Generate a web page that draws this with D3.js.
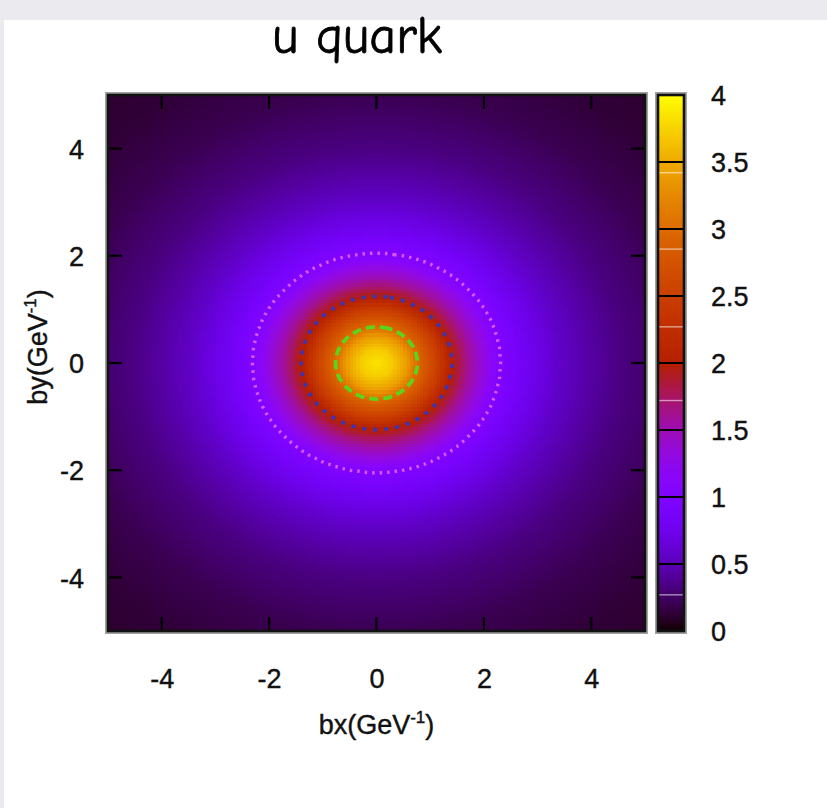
<!DOCTYPE html>
<html>
<head>
<meta charset="utf-8">
<script src="https://cdn.jsdelivr.net/npm/d3@7"></script>
<style>
  html, body { margin: 0; padding: 0; background: #ebebef; }
  svg { display: block; }
</style>
</head>
<body>
<svg id="chart" width="827" height="808"></svg>
<script>
// ---------------- data ----------------
const chartTitle = "u quark";
const xTicks = [-4, -2, 0, 2, 4];
const yTicks = [-4, -2, 0, 2, 4];
const cbTicks = [0, 0.5, 1, 1.5, 2, 2.5, 3, 3.5, 4];
const cbHighlights = [0.27, 1.72, 2.27, 2.85, 3.42];
const axisDomain = [-5, 5];
const colorDomain = [0, 4];
// radial profile of the density (radius measured in by units; bx stretched)
const profileRadius = [0, 0.25, 0.5, 0.67, 1.0, 1.24, 1.5, 2.04, 2.5, 3.0, 3.5, 4.0, 5.0, 6.0, 7.5];
const profileValue  = [3.85, 3.72, 3.4, 3.0, 2.5, 2.0, 1.62, 1.0, 0.78, 0.58, 0.45, 0.34, 0.21, 0.14, 0.09];
const ellipseStretch = [1.13, 1.0];   // bx / by elongation of the iso-lines
const contourLevels = [1, 2, 3];
const contourStyles = [
  { color: "#d957ec", width: 3.4, dash: "2.5,5" },
  { color: "#3a34b8", width: 3.6, dash: "4,7" },
  { color: "#5cd41e", width: 3.8, dash: "9,5" }
];

// ---------------- layout ----------------
const W = 827, H = 808;
const plot = { left: 108, right: 645, top: 95, bottom: 631 };
const cbar = { left: 658, right: 684 };
const font = "'Liberation Sans', Arial, Helvetica, sans-serif";

const svg = d3.select("#chart");

// paper + white panel
svg.append("rect").attr("x", 0).attr("y", 0).attr("width", W).attr("height", H).attr("fill", "#ebebef");
svg.append("rect").attr("x", 4).attr("y", 20).attr("width", W - 4).attr("height", H - 20).attr("fill", "#ffffff");

// scales
const xScale = d3.scaleLinear().domain(axisDomain).range([plot.left, plot.right]);
const yScale = d3.scaleLinear().domain(axisDomain).range([plot.bottom, plot.top]);
const cScale = d3.scaleLinear().domain(colorDomain).range([plot.bottom, plot.top]);
const profile = d3.scaleLinear().domain(profileRadius).range(profileValue).clamp(true);

// gnuplot "traditional pm3d" palette (rgbformulae 7,5,15)
function pm3d(t) {
  t = Math.max(0, Math.min(1, t));
  const r = Math.sqrt(t), g = t * t * t, b = Math.max(0, Math.sin(2 * Math.PI * t));
  return d3.rgb(255 * r, 255 * g, 255 * b).toString();
}
const color = d3.scaleSequential(pm3d).domain(colorDomain);

function density(x, y) {
  const rho = Math.hypot(x / ellipseStretch[0], y / ellipseStretch[1]);
  return profile(rho);
}

// ---------------- heat map cells ----------------
const step = 0.0625;
const nCells = Math.round((axisDomain[1] - axisDomain[0]) / step);
const cells = [];
for (let j = 0; j < nCells; j++) {
  for (let i = 0; i < nCells; i++) {
    const x0 = axisDomain[0] + i * step, y0 = axisDomain[0] + j * step;
    cells.push({ x0, y0, v: density(x0 + step / 2, y0 + step / 2) });
  }
}
svg.append("g").attr("shape-rendering", "crispEdges")
  .selectAll("rect").data(cells).join("rect")
  .attr("x", d => xScale(d.x0))
  .attr("y", d => yScale(d.y0 + step))
  .attr("width", d => xScale(d.x0 + step) - xScale(d.x0) + 0.6)
  .attr("height", d => yScale(d.y0) - yScale(d.y0 + step) + 0.6)
  .attr("fill", d => color(d.v));

// ---------------- contours ----------------
const cStep = 0.04;
const nC = Math.round((axisDomain[1] - axisDomain[0]) / cStep);
const grid = new Array(nC * nC);
for (let j = 0; j < nC; j++) {
  for (let i = 0; i < nC; i++) {
    grid[j * nC + i] = density(axisDomain[0] + (i + 0.5) * cStep, axisDomain[0] + (j + 0.5) * cStep);
  }
}
const contours = d3.contours().size([nC, nC]).thresholds(contourLevels)(grid);
const proj = d3.geoTransform({
  point: function (gx, gy) {
    this.stream.point(xScale(axisDomain[0] + gx * cStep), yScale(axisDomain[0] + gy * cStep));
  }
});
const path = d3.geoPath(proj);
svg.append("g").selectAll("path").data(contours).join("path")
  .attr("d", path)
  .attr("fill", "none")
  .attr("stroke", (d, i) => contourStyles[i].color)
  .attr("stroke-width", (d, i) => contourStyles[i].width)
  .attr("stroke-dasharray", (d, i) => contourStyles[i].dash)
  .attr("stroke-linecap", "butt");

// ---------------- frame + inward ticks ----------------
const tickLen = 14;
svg.append("rect")
  .attr("x", plot.left - 2).attr("y", plot.top - 2)
  .attr("width", plot.right - plot.left + 4).attr("height", plot.bottom - plot.top + 4)
  .attr("fill", "none").attr("stroke", "#8a8a8a").attr("stroke-width", 2).attr("opacity", 0.8);
const frame = svg.append("g").attr("stroke", "#000").attr("stroke-width", 2.2);
xTicks.forEach(t => {
  frame.append("line").attr("x1", xScale(t)).attr("x2", xScale(t)).attr("y1", plot.bottom).attr("y2", plot.bottom - tickLen);
  frame.append("line").attr("x1", xScale(t)).attr("x2", xScale(t)).attr("y1", plot.top).attr("y2", plot.top + tickLen);
});
yTicks.forEach(t => {
  frame.append("line").attr("y1", yScale(t)).attr("y2", yScale(t)).attr("x1", plot.left).attr("x2", plot.left + tickLen);
  frame.append("line").attr("y1", yScale(t)).attr("y2", yScale(t)).attr("x1", plot.right).attr("x2", plot.right - tickLen);
});
svg.append("rect")
  .attr("x", plot.left).attr("y", plot.top)
  .attr("width", plot.right - plot.left).attr("height", plot.bottom - plot.top)
  .attr("fill", "none").attr("stroke", "#111").attr("stroke-width", 2.6);

// tick labels
const xAxis = d3.axisBottom(xScale).tickValues(xTicks).tickSize(0).tickPadding(0)
  .tickFormat(d => d3.format("d")(d).replace("−", "-"));
const gx = svg.append("g").attr("transform", `translate(0, ${plot.bottom + 57})`).call(xAxis);
gx.select(".domain").remove();
gx.selectAll("text").attr("font-family", font).attr("font-size", 27).attr("fill", "#111").attr("dy", 0)
  .attr("stroke", "#111").attr("stroke-width", 0.4);

const yAxis = d3.axisLeft(yScale).tickValues(yTicks).tickSize(0).tickPadding(0)
  .tickFormat(d => d3.format("d")(d).replace("−", "-"));
const gy = svg.append("g").attr("transform", `translate(${plot.left - 24}, 0)`).call(yAxis);
gy.select(".domain").remove();
gy.selectAll("text").attr("font-family", font).attr("font-size", 27).attr("fill", "#111").attr("dy", "0.36em")
  .attr("stroke", "#111").attr("stroke-width", 0.4);

// axis titles
const xl = svg.append("text").attr("x", xScale(0)).attr("y", 734)
  .attr("text-anchor", "middle").attr("font-family", font).attr("font-size", 27).attr("fill", "#111")
  .attr("stroke", "#111").attr("stroke-width", 0.4);
xl.append("tspan").text("bx(GeV");
xl.append("tspan").attr("dy", -11).attr("font-size", 17).text("-1");
xl.append("tspan").attr("dy", 11).text(")");

const yl = svg.append("text").attr("transform", `translate(47, ${yScale(0) - 16}) rotate(-90)`)
  .attr("text-anchor", "middle").attr("font-family", font).attr("font-size", 27).attr("fill", "#111")
  .attr("stroke", "#111").attr("stroke-width", 0.4);
yl.append("tspan").text("by(GeV");
yl.append("tspan").attr("dy", -11).attr("font-size", 17).text("-1");
yl.append("tspan").attr("dy", 11).text(")");

// ---------------- colour bar ----------------
const cbSteps = d3.range(colorDomain[0], colorDomain[1], 0.02);
svg.append("g").attr("shape-rendering", "crispEdges")
  .selectAll("rect").data(cbSteps).join("rect")
  .attr("x", cbar.left).attr("width", cbar.right - cbar.left)
  .attr("y", d => cScale(d + 0.02))
  .attr("height", d => cScale(d) - cScale(d + 0.02) + 0.6)
  .attr("fill", d => color(d + 0.01));
svg.append("g").selectAll("line").data(cbHighlights).join("line")
  .attr("x1", cbar.left).attr("x2", cbar.right)
  .attr("y1", d => cScale(d)).attr("y2", d => cScale(d))
  .attr("stroke", "#ffffff").attr("stroke-opacity", 0.55).attr("stroke-width", 1.4);
svg.append("g").selectAll("line").data(cbTicks.filter(t => t > colorDomain[0] && t < colorDomain[1])).join("line")
  .attr("x1", cbar.left).attr("x2", cbar.right)
  .attr("y1", d => cScale(d)).attr("y2", d => cScale(d))
  .attr("stroke", "#000").attr("stroke-width", 2);
svg.append("rect")
  .attr("x", cbar.left - 2).attr("y", plot.top - 2)
  .attr("width", cbar.right - cbar.left + 4).attr("height", plot.bottom - plot.top + 4)
  .attr("fill", "none").attr("stroke", "#8a8a8a").attr("stroke-width", 2).attr("opacity", 0.8);
svg.append("rect")
  .attr("x", cbar.left).attr("y", plot.top)
  .attr("width", cbar.right - cbar.left).attr("height", plot.bottom - plot.top)
  .attr("fill", "none").attr("stroke", "#111").attr("stroke-width", 2.6);

const cAxis = d3.axisRight(cScale).tickValues(cbTicks).tickSize(0).tickPadding(0).tickFormat(d3.format("~g"));
const gc = svg.append("g").attr("transform", `translate(711, 0)`).call(cAxis);
gc.select(".domain").remove();
gc.selectAll("text").attr("font-family", font).attr("font-size", 27).attr("fill", "#111").attr("dy", "0.36em")
  .attr("stroke", "#111").attr("stroke-width", 0.4);

// ---------------- title ----------------
svg.append("text").attr("x", 357).attr("y", 53)
  .attr("text-anchor", "middle")
  .attr("font-family", "'Comic Sans MS', 'Comic Neue', 'Noto Sans', 'Open Sans', sans-serif")
  .attr("font-size", 52).attr("fill", "#000")
  .attr("stroke", "#000").attr("stroke-width", 0.8)
  .text(chartTitle);
</script>
</body>
</html>
